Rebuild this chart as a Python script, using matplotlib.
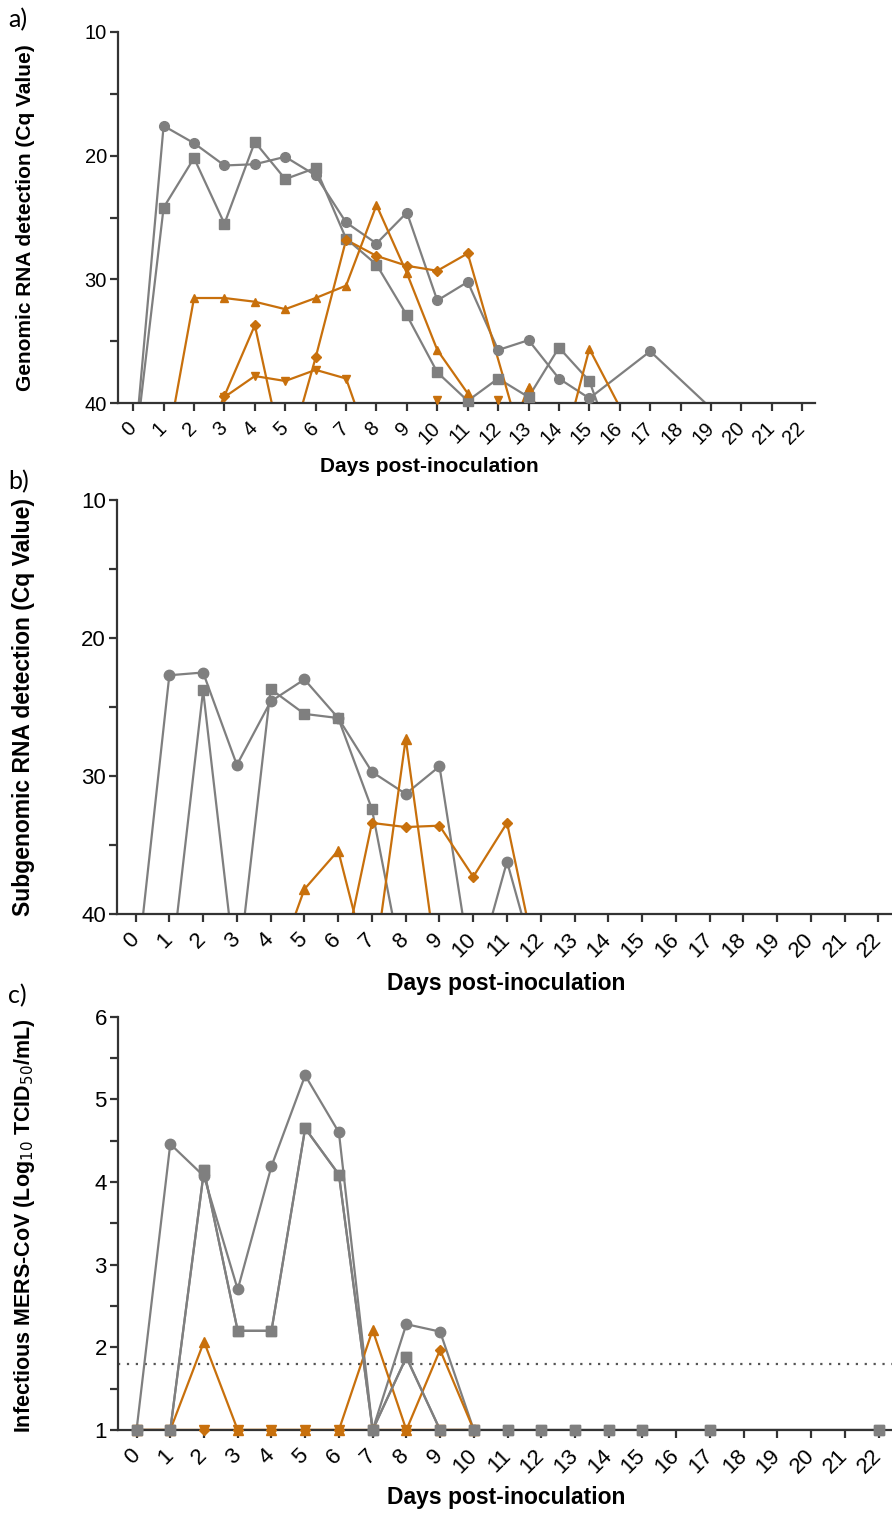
import numpy as np
import matplotlib
matplotlib.use("Agg")
import matplotlib.pyplot as plt

# colours for the two animal groups
GREY = "#7f7f7f"
ORANGE = "#c8700c"
UND = 45  # not detected: plotted below the axis floor so lines are cut there

# a) genomic RNA, Cq values per animal (day, value)
a_circle_days = [0, 1, 2, 3, 4, 5, 6, 7, 8, 9, 10, 11, 12, 13, 14, 15, 17, 19]
a_circle_vals = [UND, 17.6, 19.0, 20.8, 20.7, 20.1, 21.6, 25.4, 27.1, 24.6, 31.7, 30.2, 35.7, 34.9, 38.0, 39.6, 35.8, 40.4]
a_square_days = [0, 1, 2, 3, 4, 5, 6, 7, 8, 9, 10, 11, 12, 13, 14, 15, 16]
a_square_vals = [UND, 24.2, 20.2, 25.5, 18.9, 21.9, 21.0, 26.7, 28.8, 32.9, 37.5, 39.8, 38.0, 39.5, 35.5, 38.2, UND]
a_tup_days = [0, 1, 2, 3, 4, 5, 6, 7, 8, 9, 10, 11, 12, 13, 14, 15, 17]
a_tup_vals = [UND, UND, 31.5, 31.5, 31.8, 32.4, 31.5, 30.5, 24.0, 29.5, 35.7, 39.2, UND, 38.7, UND, 35.6, UND]
a_tdown_days = [0, 1, 2, 3, 4, 5, 6, 7, 8, 9, 10, 11, 12, 13]
a_tdown_vals = [UND, UND, UND, 39.5, 37.8, 38.2, 37.3, 38.0, UND, UND, 39.7, UND, 39.7, UND]
a_diam_days = [0, 1, 2, 3, 4, 5, 6, 7, 8, 9, 10, 11, 13]
a_diam_vals = [UND, UND, UND, 39.4, 33.7, UND, 36.3, 26.8, 28.1, 28.9, 29.3, 27.9, UND]

# b) subgenomic RNA
b_circle_days = [0, 1, 2, 3, 4, 5, 6, 7, 8, 9, 10, 11, 12]
b_circle_vals = [UND, 22.7, 22.5, 29.2, 24.6, 23.0, 25.8, 29.7, 31.3, 29.3, UND, 36.2, UND]
b_square_days = [0, 1, 2, 3, 4, 5, 6, 7, 8]
b_square_vals = [UND, UND, 23.8, UND, 23.7, 25.5, 25.8, 32.4, UND]
b_tup_days = [4, 5, 6, 7, 8, 9]
b_tup_vals = [UND, 38.2, 35.4, UND, 27.3, UND]
b_diam_days = [6, 7, 8, 9, 10, 11, 12]
b_diam_vals = [UND, 33.4, 33.7, 33.6, 37.3, 33.4, UND]

# c) infectious virus titre, log10 TCID50/mL
c_circle_days = [0, 1, 2, 3, 4, 5, 6, 7, 8, 9, 10]
c_circle_vals = [1, 4.46, 4.07, 2.70, 4.19, 5.29, 4.60, 1, 2.28, 2.19, 1]
c_square_days = [0, 1, 2, 3, 4, 5, 6, 7, 8, 9, 10, 11, 12, 13, 14, 15, 17, 22]
c_square_vals = [1, 1, 4.14, 2.20, 2.20, 4.65, 4.09, 1, 1.88, 1, 1, 1, 1, 1, 1, 1, 1, 1]
c_tup_days = [0, 1, 2, 3, 4, 5, 6, 7, 8, 9, 10]
c_tup_vals = [1, 1, 2.07, 1, 1, 1, 1, 2.21, 1, 1, 1]
c_tdown_days = [0, 1, 2, 3, 4, 5, 6, 7, 8, 9, 10]
c_tdown_vals = [1, 1, 1, 1, 1, 1, 1, 1, 1, 1, 1]
c_diam_days = [0, 1, 2, 3, 4, 5, 6, 7, 8, 9, 10]
c_diam_vals = [1, 1, 1, 1, 1, 1, 1, 1, 1, 1.97, 1]
c_limit = 1.8

days = list(range(23))

plt.rcParams["font.family"] = ["Liberation Sans", "DejaVu Sans"]
W, H = 892, 1517
fig = plt.figure(figsize=(W / 100, H / 100), dpi=100)


def box(l, t, r, b):
    return [l / W, 1 - b / H, (r - l) / W, (b - t) / H]


def fig_xy(x, y):
    return x / W, 1 - y / H


def series(ax, d, v, color, marker, ms, lo, hi):
    d = np.array(d)
    v = np.array(v, dtype=float)
    ax.plot(d, v, color=color, lw=1.6, zorder=2)
    keep = (v >= lo) & (v <= hi + 0.3)
    ax.plot(d[keep], v[keep], ls="none", marker=marker, ms=ms, color=color,
            mec=color, clip_on=False, zorder=3)


def style(ax, xmin, xmax, tick_fs, label_fs):
    ax.set_xlim(xmin, xmax)
    ax.set_xticks(days)
    ax.set_xticklabels([str(d) for d in days], rotation=45, ha="right",
                       va="center", rotation_mode="anchor")
    for s in ("top", "right"):
        ax.spines[s].set_visible(False)
    for s in ("left", "bottom"):
        ax.spines[s].set_linewidth(1.6)
        ax.spines[s].set_color("#333333")
    ax.tick_params(which="major", length=6, width=1.6, color="#333333",
                   labelsize=tick_fs, pad=2)
    ax.tick_params(axis="x", pad=10)
    ax.tick_params(which="minor", length=6, width=1.6, color="#333333")
    ax.set_xlabel("Days post-inoculation", fontsize=label_fs, fontweight="bold")


# a)
ax1 = fig.add_axes(box(118, 31.7, 815, 403.3))
ax1.set_ylim(40, 10)
ax1.set_yticks([10, 20, 30, 40])
ax1.set_yticks([15, 25, 35], minor=True)
series(ax1, a_circle_days, a_circle_vals, GREY, "o", 7, 10, 40)
series(ax1, a_square_days, a_square_vals, GREY, "s", 7, 10, 40)
series(ax1, a_tup_days, a_tup_vals, ORANGE, "^", 6, 10, 40)
series(ax1, a_tdown_days, a_tdown_vals, ORANGE, "v", 6, 10, 40)
series(ax1, a_diam_days, a_diam_vals, ORANGE, "D", 5, 10, 40)
style(ax1, -0.5, 22.42, 14.5, 15)
ax1.set_ylabel("Genomic RNA detection (Cq Value)", fontsize=15, fontweight="bold")

# b)
ax2 = fig.add_axes(box(117, 500, 892, 914))
ax2.set_ylim(40, 10)
ax2.set_yticks([10, 20, 30, 40])
ax2.set_yticks([15, 25, 35], minor=True)
series(ax2, b_circle_days, b_circle_vals, GREY, "o", 7.5, 10, 40)
series(ax2, b_square_days, b_square_vals, GREY, "s", 7.5, 10, 40)
series(ax2, b_tup_days, b_tup_vals, ORANGE, "^", 6.5, 10, 40)
series(ax2, b_diam_days, b_diam_vals, ORANGE, "D", 5.5, 10, 40)
style(ax2, -0.55, 22.4, 16, 16.5)
ax2.set_ylabel("Subgenomic RNA detection (Cq Value)", fontsize=16.5, fontweight="bold")

# c)
ax3 = fig.add_axes(box(118, 1016.7, 892, 1430))
ax3.set_ylim(1, 6)
ax3.set_yticks([1, 2, 3, 4, 5, 6])
ax3.set_yticks([1.5, 2.5, 3.5, 4.5, 5.5], minor=True)
ax3.axhline(c_limit, color="#555555", lw=1.6, ls=(0, (1, 3)), zorder=1)
series(ax3, c_circle_days, c_circle_vals, GREY, "o", 7.5, 1, 6)
series(ax3, c_square_days, c_square_vals, GREY, "s", 7.5, 1, 6)
series(ax3, c_tdown_days, c_tdown_vals, ORANGE, "v", 6.5, 1, 6)
series(ax3, c_diam_days, c_diam_vals, ORANGE, "D", 5.5, 1, 6)
series(ax3, c_tup_days, c_tup_vals, ORANGE, "^", 6.5, 1, 6)
series(ax3, c_square_days, c_square_vals, GREY, "s", 7.5, 1, 6)
style(ax3, -0.55, 22.4, 16, 16.5)
ax3.set_ylabel("Infectious MERS-CoV (Log$_{10}$ TCID$_{50}$/mL)", fontsize=15.5,
               fontweight="bold")

# axis title positions in figure pixels
ax1.yaxis.set_label_coords(*fig_xy(35, 217.5), transform=fig.transFigure)
ax2.yaxis.set_label_coords(*fig_xy(35, 707), transform=fig.transFigure)
ax3.yaxis.set_label_coords(*fig_xy(37, 1226), transform=fig.transFigure)
ax1.xaxis.set_label_coords(*fig_xy(429, 457), transform=fig.transFigure)
ax2.xaxis.set_label_coords(*fig_xy(506, 972), transform=fig.transFigure)
ax3.xaxis.set_label_coords(*fig_xy(506, 1486), transform=fig.transFigure)

for lab, y in (("a)", 20), ("b)", 482), ("c)", 996)):
    fig.text(8 / W, 1 - y / H, lab, fontsize=18, family="Lato", va="center")

fig.savefig("out.png", dpi=100)
